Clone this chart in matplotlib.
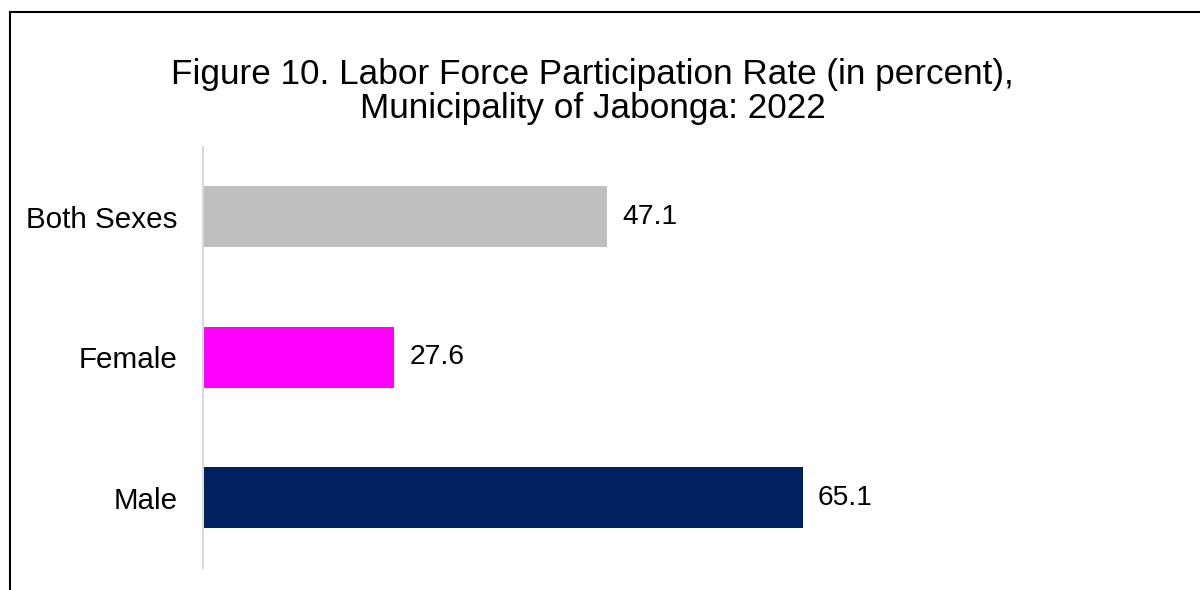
import numpy as np
import matplotlib.pyplot as plt
from matplotlib.lines import Line2D

categories = ['Both Sexes', 'Female', 'Male']
rates = [47.1, 27.6, 65.1]
colors = ['#BFBFBF', '#FF00FF', '#002060']
title = 'Figure 10. Labor Force Participation Rate (in percent),\nMunicipality of Jabonga: 2022'

plt.rcParams['font.family'] = ['Liberation Sans', 'DejaVu Sans']

fig = plt.figure(figsize=(12, 5.9), dpi=100)
ax = fig.add_axes([0.169, 0.0373, 0.635, 0.714])

y = np.arange(len(categories))
bars = ax.barh(y, rates, height=0.435, color=colors)
ax.bar_label(bars, labels=[f'{v:.1f}' for v in rates], padding=11, fontsize=20.3)

ax.set_xlim(10, 80)
ax.set_ylim(2.5, -0.5)
ax.set_yticks(y)
ax.set_yticklabels(categories, fontsize=21.3)
ax.tick_params(axis='y', length=0, pad=18)
ax.set_xticks([])
for s in ['top', 'right', 'bottom']:
    ax.spines[s].set_visible(False)
ax.spines['left'].set_color('#D9D9D9')
ax.spines['left'].set_linewidth(1.5)

fig.text(0.494, 0.845, title, ha='center', va='center', fontsize=25.3, linespacing=1.02)

# frame around the chart, cut off at right and bottom
fig.add_artist(Line2D([0.0083, 0.0083], [0, 0.9797], color='black', lw=1.5))
fig.add_artist(Line2D([0.0083, 1], [0.9797, 0.9797], color='black', lw=1.5))

fig.savefig('out.png', dpi=100)
